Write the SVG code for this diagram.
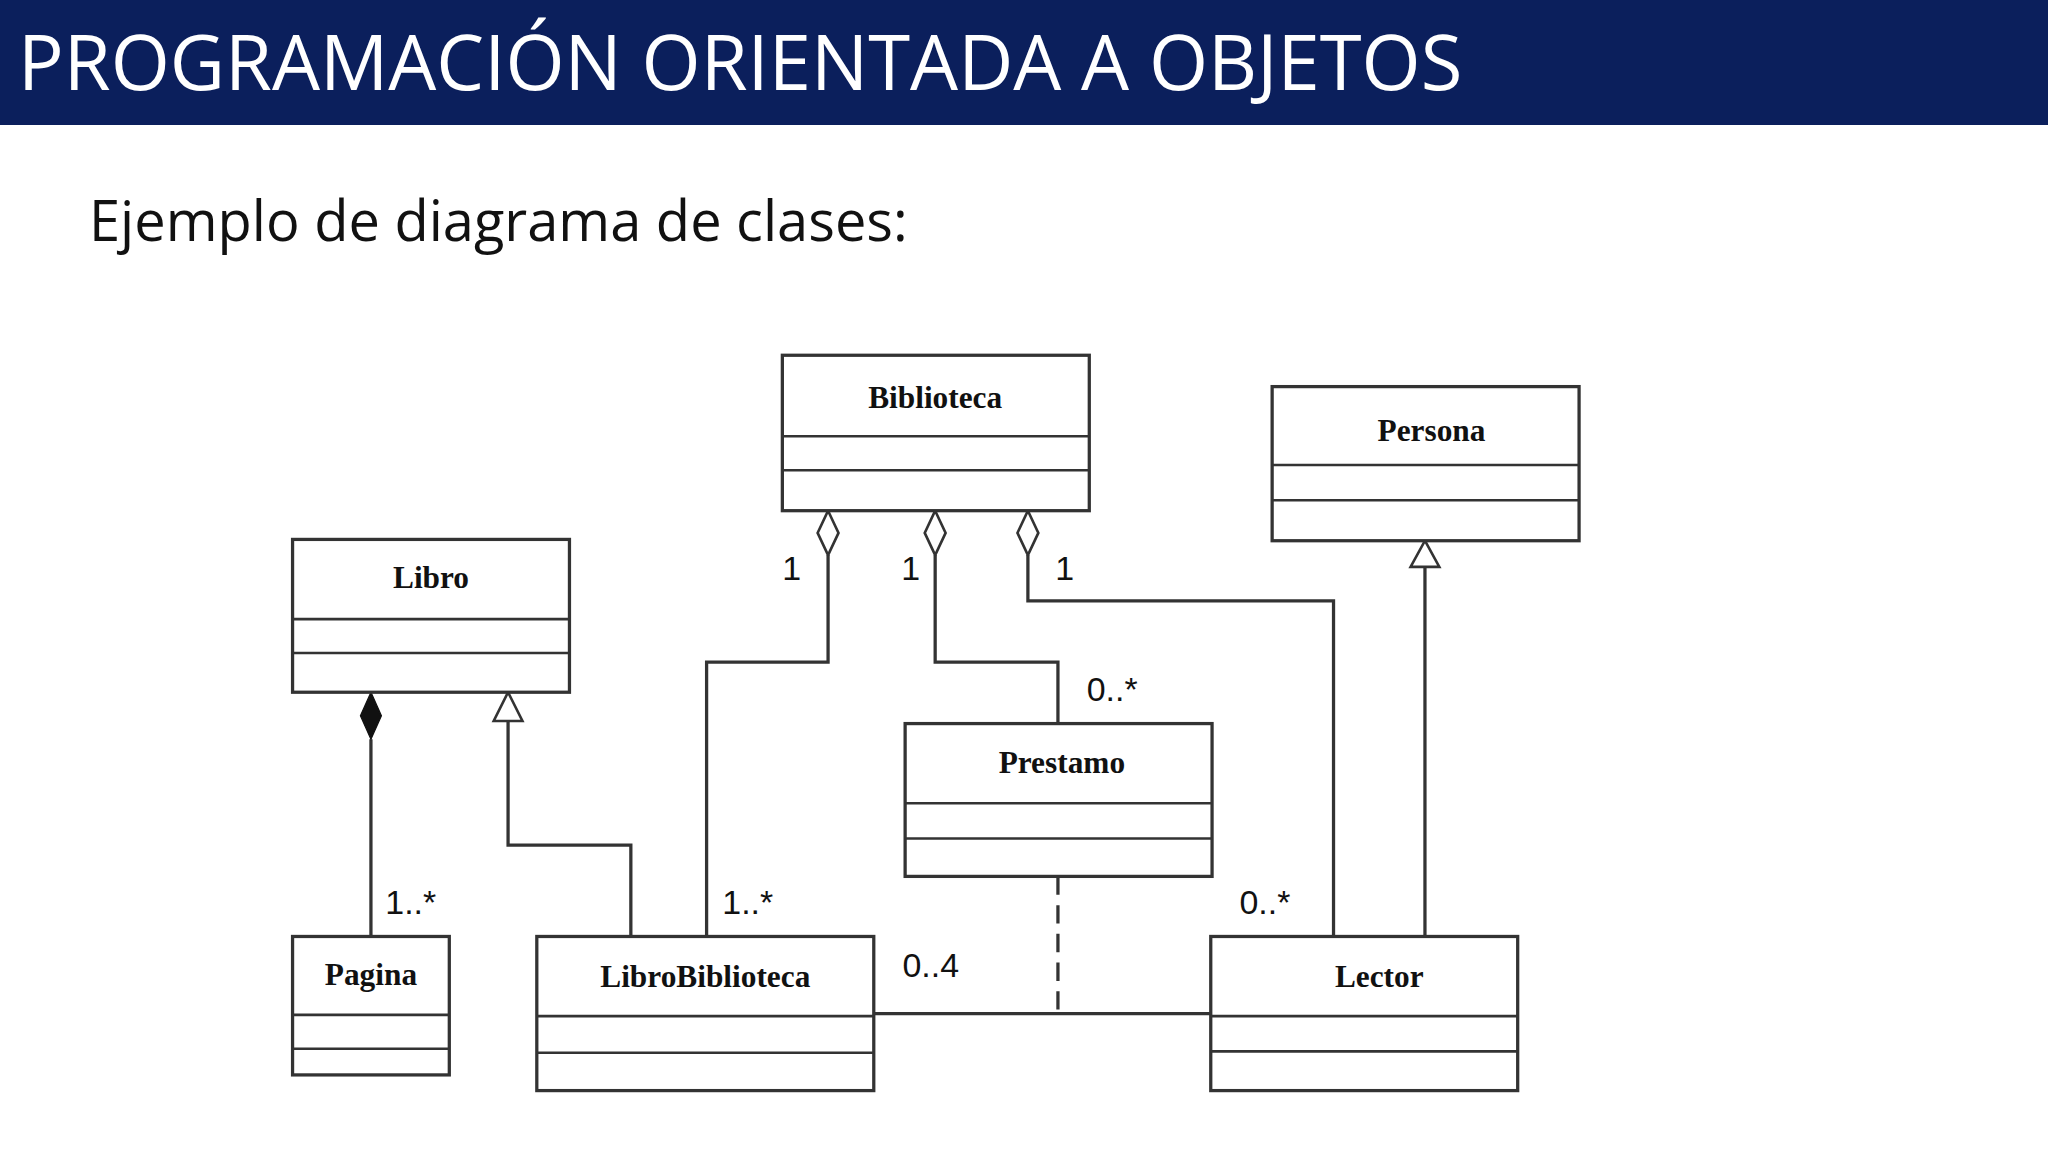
<svg xmlns="http://www.w3.org/2000/svg" width="2048" height="1152" viewBox="0 0 2048 1152">
<style>
.box{fill:#fff;stroke:#333;stroke-width:2.5}
.sep{stroke:#333;stroke-width:2}
.name{font-family:"Liberation Serif",serif;font-weight:bold;font-size:24px;text-anchor:middle;fill:#111}
.lbl{font-family:"Liberation Sans",sans-serif;font-size:26px;fill:#111}
.ln{fill:none;stroke:#333;stroke-width:2.5}
</style>
<rect width="2048" height="1152" fill="#fff"/>
<rect x="0" y="0" width="2048" height="125" fill="#0b1f5c"/>
<text x="18" y="90" font-family="Open Sans, sans-serif" font-size="76" fill="#fff">PROGRAMACIÓN ORIENTADA A OBJETOS</text>
<text x="89" y="241" font-family="Open Sans, sans-serif" font-size="56" fill="#111">Ejemplo de diagrama de clases:</text>
<g transform="scale(1.3061)">
<g id="connectors">
<polyline class="ln" points="634,425 634,507 541,507 541,717"/>
<polygon points="634,391 642,408 634,425 626,408" fill="#fff" stroke="#333" stroke-width="2"/>
<polyline class="ln" points="716,425 716,507 810,507 810,554"/>
<polygon points="716,391 724,408 716,425 708,408" fill="#fff" stroke="#333" stroke-width="2"/>
<polyline class="ln" points="787,425 787,460 1021,460 1021,717"/>
<polygon points="787,391 795,408 787,425 779,408" fill="#fff" stroke="#333" stroke-width="2"/>
<line class="ln" x1="1091" y1="434" x2="1091" y2="717"/>
<polygon points="1091,414 1102,434 1080,434" fill="#fff" stroke="#333" stroke-width="2"/>
<line class="ln" x1="284" y1="566" x2="284" y2="717"/>
<polygon points="284,530 292,548 284,566 276,548" fill="#111" stroke="#111"/>
<polyline class="ln" points="389,552 389,647 483,647 483,717"/>
<polygon points="389,530 400,552 378,552" fill="#fff" stroke="#333" stroke-width="2"/>
<line class="ln" x1="669" y1="776" x2="927" y2="776"/>
<line class="ln" x1="810" y1="671" x2="810" y2="776" stroke-dasharray="14,8"/>
<text class="lbl" x="599" y="444">1</text>
<text class="lbl" x="690" y="444">1</text>
<text class="lbl" x="808" y="444">1</text>
<text class="lbl" x="553" y="700">1..*</text>
<text class="lbl" x="832" y="537">0..*</text>
<text class="lbl" x="949" y="700">0..*</text>
<text class="lbl" x="295" y="700">1..*</text>
<text class="lbl" x="691" y="748">0..4</text>
</g>
<g id="Biblioteca"><rect class="box" x="599" y="272" width="235" height="119"/><line class="sep" x1="599" y1="334" x2="834" y2="334"/><line class="sep" x1="599" y1="360" x2="834" y2="360"/><text class="name" x="716" y="312">Biblioteca</text></g>
<g id="Persona"><rect class="box" x="974" y="296" width="235" height="118"/><line class="sep" x1="974" y1="356" x2="1209" y2="356"/><line class="sep" x1="974" y1="383" x2="1209" y2="383"/><text class="name" x="1096" y="338">Persona</text></g>
<g id="Libro"><rect class="box" x="224" y="413" width="212" height="117"/><line class="sep" x1="224" y1="474" x2="436" y2="474"/><line class="sep" x1="224" y1="500" x2="436" y2="500"/><text class="name" x="330" y="450">Libro</text></g>
<g id="Prestamo"><rect class="box" x="693" y="554" width="235" height="117"/><line class="sep" x1="693" y1="615" x2="928" y2="615"/><line class="sep" x1="693" y1="642" x2="928" y2="642"/><text class="name" x="813" y="592">Prestamo</text></g>
<g id="Pagina"><rect class="box" x="224" y="717" width="120" height="106"/><line class="sep" x1="224" y1="777" x2="344" y2="777"/><line class="sep" x1="224" y1="803" x2="344" y2="803"/><text class="name" x="284" y="754">Pagina</text></g>
<g id="LibroBiblioteca"><rect class="box" x="411" y="717" width="258" height="118"/><line class="sep" x1="411" y1="778" x2="669" y2="778"/><line class="sep" x1="411" y1="806" x2="669" y2="806"/><text class="name" x="540" y="756">LibroBiblioteca</text></g>
<g id="Lector"><rect class="box" x="927" y="717" width="235" height="118"/><line class="sep" x1="927" y1="778" x2="1162" y2="778"/><line class="sep" x1="927" y1="805" x2="1162" y2="805"/><text class="name" x="1056" y="756">Lector</text></g>
</g>
</svg>
